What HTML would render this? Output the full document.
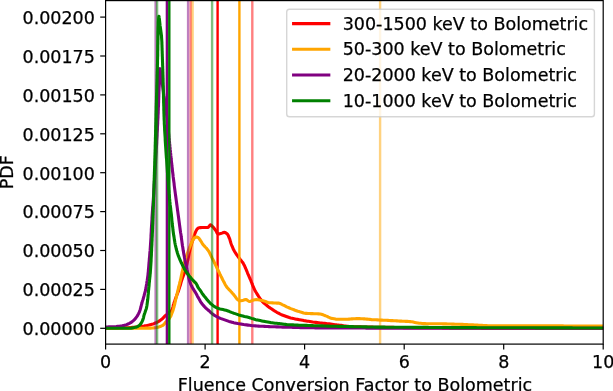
<!DOCTYPE html>
<html><head><meta charset="utf-8"><title>PDF plot</title>
<style>html,body{margin:0;padding:0;background:#fff}body{width:613px;height:391px;overflow:hidden}</style></head>
<body>
<svg width="613" height="391" viewBox="0 0 613 391" style="display:block;font-family:'DejaVu Sans','Liberation Sans',sans-serif"><style>text{stroke:#000;stroke-width:0.25px}</style>
<rect width="613" height="391" fill="#fff"/>
<defs><clipPath id="ax"><rect x="105.6" y="0.6" width="497.6" height="343.5"/></clipPath></defs>
<g clip-path="url(#ax)">
<polyline points="105.6,328.2 107.1,328.2 108.6,328.2 110.1,328.2 111.6,328.2 113.1,328.1 114.6,328.1 116.1,328.1 117.6,328.1 119.1,328.0 120.0,328.0 120.6,328.0 122.1,327.9 123.6,327.9 125.1,327.8 126.6,327.7 128.1,327.7 129.6,327.6 131.1,327.5 132.6,327.3 134.0,327.2 134.5,327.2 135.5,327.1 137.0,327.0 138.5,326.8 140.0,326.6 141.5,326.4 143.0,326.2 144.1,326.0 144.5,325.9 145.9,325.7 147.4,325.4 148.9,325.1 150.3,324.7 151.8,324.3 151.8,324.3 153.2,323.9 154.6,323.3 156.0,322.8 157.4,322.1 157.6,322.0 158.7,321.4 159.9,320.6 161.1,319.7 162.0,319.0 162.3,318.8 163.4,317.7 164.4,316.6 165.4,315.5 165.7,315.3 166.6,314.6 167.7,313.6 168.9,312.7 169.5,312.2 170.1,311.7 171.4,310.8 172.0,310.0 172.2,309.7 172.6,308.3 173.0,306.8 173.3,305.3 173.4,305.0 173.8,303.8 174.2,302.4 174.7,301.0 175.0,300.0 175.2,299.6 175.7,298.2 176.2,296.8 176.5,296.0 176.7,295.4 177.3,294.0 177.8,292.6 178.4,291.2 178.7,290.2 178.8,289.8 179.3,288.3 179.7,286.9 180.2,285.5 180.6,284.0 181.0,282.6 181.4,281.1 181.6,280.6 181.9,279.7 182.4,278.3 182.9,276.9 183.5,275.5 184.0,274.1 184.5,272.7 185.0,271.3 185.4,269.8 185.6,269.3 185.8,268.4 186.2,267.0 186.6,265.5 186.9,264.1 187.2,262.6 187.5,261.1 187.9,259.7 188.2,258.2 188.5,256.7 188.8,255.2 189.1,253.8 189.4,252.3 189.8,250.9 189.8,250.9 190.2,249.4 190.6,248.0 190.9,246.5 191.3,245.1 191.7,243.6 192.1,242.2 192.6,240.7 193.0,239.3 193.5,237.9 193.9,236.6 193.9,236.5 194.4,235.0 194.9,233.6 195.5,232.1 196.1,230.8 196.6,229.9 196.8,229.6 197.9,228.3 198.6,227.9 199.1,227.8 200.5,227.6 202.1,227.5 203.7,227.5 203.7,227.5 205.2,227.5 206.8,227.5 207.8,227.5 208.1,227.4 209.2,226.2 210.2,224.9 210.5,224.8 211.3,225.2 212.4,226.4 212.9,226.9 213.5,227.5 214.4,228.7 215.3,229.9 216.0,230.9 216.2,231.1 216.9,232.7 217.8,233.9 218.1,234.0 219.0,233.9 220.6,233.5 221.1,233.4 222.0,233.1 223.5,232.5 224.2,232.4 224.9,232.5 226.3,233.2 227.3,234.0 227.4,234.1 228.2,235.3 228.8,236.8 229.3,238.1 229.4,238.2 229.9,239.6 230.3,241.1 230.7,242.5 231.2,243.9 231.3,244.2 231.7,245.3 232.3,246.7 232.9,248.1 233.4,249.3 233.5,249.5 234.2,250.8 235.0,252.1 235.8,253.3 236.0,253.6 236.6,254.6 237.5,255.8 238.4,257.0 239.3,258.2 239.3,258.3 240.2,259.4 241.1,260.6 242.0,261.7 242.0,261.8 243.0,262.9 243.4,263.6 243.7,264.2 244.4,265.5 245.0,266.9 245.6,268.3 245.7,268.5 246.2,269.7 246.8,271.1 247.4,272.5 247.5,272.8 247.9,273.8 248.5,275.2 249.1,276.6 249.7,278.0 250.3,279.3 250.6,280.0 250.9,280.7 251.4,282.1 252.0,283.5 252.0,283.6 252.5,284.9 253.1,286.3 253.7,287.7 254.3,289.0 254.9,290.2 255.0,290.4 255.7,291.7 256.5,293.0 257.2,294.3 258.1,295.5 258.7,296.5 258.9,296.8 259.7,298.0 260.6,299.3 261.5,300.5 262.4,301.6 262.5,301.7 263.5,302.7 264.6,303.6 265.8,304.6 266.4,305.1 266.9,305.5 268.1,306.5 269.3,307.4 270.2,308.0 270.5,308.2 271.8,309.1 273.0,309.9 274.3,310.7 274.9,311.1 275.6,311.5 276.8,312.3 278.1,313.0 279.5,313.7 279.8,313.9 280.8,314.4 282.2,315.0 283.6,315.5 285.0,316.0 286.3,316.5 286.4,316.5 287.8,317.0 289.3,317.5 290.7,317.9 292.2,318.2 292.8,318.4 293.6,318.6 295.1,318.9 296.6,319.2 298.0,319.4 299.4,319.7 299.5,319.7 301.0,320.0 302.5,320.3 303.9,320.6 305.4,320.8 305.9,320.9 306.9,321.1 308.4,321.3 309.8,321.5 311.3,321.7 312.4,321.9 312.8,322.0 314.3,322.2 315.8,322.4 317.3,322.6 318.7,322.8 318.9,322.8 320.2,323.0 321.7,323.1 323.2,323.3 324.7,323.4 326.2,323.6 327.1,323.7 327.7,323.8 329.2,323.9 330.7,324.1 332.1,324.3 333.6,324.5 335.1,324.7 335.3,324.7 336.6,324.9 338.1,325.0 339.6,325.2 341.1,325.4 342.5,325.6 343.4,325.7 344.0,325.8 345.5,326.0 347.0,326.2 348.5,326.4 350.0,326.5 351.0,326.6 351.5,326.6 353.0,326.7 354.5,326.7 356.0,326.8 357.5,326.8 359.0,326.9 360.5,326.9 362.0,327.0 363.5,327.0 365.0,327.0 366.5,327.0 368.0,327.1 369.5,327.1 370.0,327.1 371.0,327.1 372.5,327.1 373.9,327.2 375.4,327.2 376.9,327.2 378.4,327.2 379.9,327.3 381.4,327.3 382.9,327.3 384.4,327.3 385.9,327.3 387.4,327.4 388.9,327.4 390.4,327.4 391.9,327.4 393.4,327.4 394.9,327.5 396.4,327.5 397.9,327.5 399.4,327.5 400.9,327.5 402.4,327.5 403.9,327.6 405.4,327.6 406.9,327.6 408.4,327.6 409.9,327.6 411.4,327.6 412.9,327.6 414.4,327.7 415.9,327.7 417.4,327.7 418.9,327.7 420.0,327.7 420.4,327.7 421.9,327.7 423.4,327.7 424.9,327.7 426.4,327.7 427.9,327.8 429.4,327.8 430.9,327.8 432.4,327.8 433.9,327.8 435.4,327.8 436.9,327.8 438.4,327.8 439.9,327.8 441.4,327.8 442.9,327.9 444.4,327.9 445.9,327.9 447.4,327.9 448.9,327.9 450.4,327.9 451.9,327.9 453.4,327.9 454.9,327.9 456.4,327.9 457.9,327.9 459.4,328.0 460.9,328.0 462.4,328.0 463.8,328.0 465.3,328.0 466.8,328.0 468.3,328.0 469.8,328.0 471.3,328.0 472.8,328.0 474.3,328.0 475.8,328.0 477.3,328.0 478.8,328.0 480.3,328.0 481.8,328.1 483.3,328.1 484.8,328.1 486.3,328.1 487.8,328.1 489.3,328.1 490.8,328.1 492.3,328.1 493.8,328.1 495.3,328.1 496.8,328.1 498.3,328.1 499.8,328.1 500.0,328.1 501.3,328.1 502.8,328.1 504.3,328.1 505.8,328.1 507.3,328.1 508.8,328.1 510.3,328.1 511.8,328.1 513.3,328.1 514.8,328.1 516.3,328.1 517.8,328.1 519.3,328.1 520.8,328.1 522.3,328.1 523.8,328.1 525.3,328.1 526.8,328.1 528.3,328.1 529.8,328.1 531.3,328.1 532.8,328.1 534.3,328.2 535.8,328.2 537.3,328.2 538.8,328.2 540.3,328.2 541.8,328.2 543.3,328.2 544.8,328.2 546.3,328.2 547.8,328.2 549.3,328.2 550.8,328.2 552.3,328.2 553.8,328.2 555.3,328.2 556.7,328.2 558.2,328.2 559.7,328.2 561.2,328.2 562.7,328.2 564.2,328.2 565.7,328.2 567.2,328.2 568.7,328.2 570.2,328.2 571.7,328.2 573.2,328.2 574.7,328.2 576.2,328.2 577.7,328.2 579.2,328.2 580.7,328.2 582.2,328.2 583.7,328.2 585.2,328.2 586.7,328.2 588.2,328.2 589.7,328.2 591.2,328.2 592.7,328.2 594.2,328.2 595.7,328.2 597.2,328.2 598.7,328.2 600.2,328.2 601.7,328.2 603.2,328.2" fill="none" stroke="#ff0000" stroke-width="3.10" stroke-linejoin="round" stroke-linecap="square"/>
<line x1="217.6" x2="217.6" y1="0.6" y2="344.1" stroke="#ff0000" stroke-opacity="1" stroke-width="2.40"/>
<line x1="190.7" x2="190.7" y1="0.6" y2="344.1" stroke="#ff0000" stroke-opacity="0.5" stroke-width="2.40"/>
<line x1="252.3" x2="252.3" y1="0.6" y2="344.1" stroke="#ff0000" stroke-opacity="0.5" stroke-width="2.40"/>
<polyline points="105.6,328.2 107.1,328.2 108.6,328.2 110.1,328.2 111.6,328.2 113.1,328.2 114.6,328.2 116.1,328.2 117.6,328.2 119.1,328.2 120.6,328.2 122.1,328.2 123.6,328.2 125.1,328.2 126.6,328.2 128.1,328.2 129.5,328.2 131.0,328.2 132.5,328.2 134.0,328.2 134.5,328.2 135.5,328.2 137.0,328.2 138.5,328.2 140.0,328.2 141.5,328.2 143.0,328.2 144.5,328.2 146.0,328.1 147.5,328.1 149.0,328.1 150.0,328.1 150.5,328.1 152.0,328.0 153.5,327.9 155.0,327.7 155.0,327.7 156.5,327.5 157.9,327.2 159.0,326.9 159.4,326.8 160.8,326.3 162.2,325.7 162.7,325.4 163.4,324.9 164.4,323.8 165.4,322.6 165.7,322.2 166.4,321.5 167.5,320.5 168.3,319.6 168.5,319.4 169.5,318.2 170.3,317.0 170.3,317.0 171.0,315.7 171.5,314.3 172.0,313.0 172.1,312.8 172.6,311.5 173.1,310.0 173.1,310.0 173.5,308.6 173.9,307.2 174.3,305.7 174.5,305.0 174.7,304.3 175.0,302.8 175.3,301.3 175.6,300.0 175.6,299.9 176.0,298.4 176.3,297.0 176.7,295.5 176.8,295.0 177.0,294.1 177.4,292.6 177.7,291.1 178.0,290.0 178.1,289.7 178.4,288.2 178.8,286.8 179.1,285.3 179.2,285.0 179.5,283.9 179.8,282.4 180.2,281.0 180.3,280.6 180.6,279.5 180.9,278.1 181.2,276.6 181.5,275.1 181.8,273.7 182.1,272.2 182.5,270.7 182.8,269.3 183.1,267.8 183.5,266.3 183.8,264.9 184.0,264.2 184.2,263.5 184.6,262.0 185.0,260.6 185.5,259.2 185.9,257.7 186.4,256.3 186.9,254.9 187.2,254.0 187.4,253.5 187.9,252.1 188.4,250.6 188.9,249.2 189.4,247.8 189.9,246.4 190.3,245.6 190.5,245.1 191.1,243.7 191.7,242.3 192.4,240.9 193.2,239.7 193.4,239.4 194.1,238.4 195.3,237.3 196.0,237.0 196.6,237.1 198.0,237.5 198.2,237.6 199.1,238.4 199.9,239.8 200.3,240.3 200.8,241.0 201.6,242.3 202.3,243.6 203.2,244.8 203.3,245.0 204.2,245.9 205.2,247.0 206.2,248.0 206.3,248.1 207.2,249.2 208.1,250.4 208.8,251.4 209.0,251.7 209.7,253.0 210.3,254.3 211.0,255.7 211.5,256.8 211.6,257.0 212.3,258.4 213.0,259.7 213.7,261.0 214.3,262.3 214.3,262.4 215.0,263.7 215.6,265.1 216.2,266.4 216.9,267.8 217.1,268.3 217.5,269.2 218.2,270.5 218.8,271.8 219.5,273.2 220.1,274.4 220.2,274.5 220.8,275.9 221.5,277.2 222.1,278.6 222.8,279.9 223.2,280.6 223.5,281.2 224.2,282.5 224.9,283.9 225.6,285.2 226.4,286.5 227.0,287.3 227.3,287.7 228.3,288.8 229.3,289.9 230.4,290.9 230.9,291.5 231.4,292.0 232.4,293.2 233.4,294.3 234.3,295.4 234.7,295.9 235.2,296.6 236.1,297.9 237.0,299.1 237.6,299.6 238.1,300.0 239.5,300.8 239.9,300.8 240.9,300.7 242.4,300.4 243.3,300.2 243.9,300.0 245.4,299.6 246.0,299.5 246.7,299.7 248.0,300.7 249.3,301.5 249.6,301.5 250.7,301.2 252.1,300.6 252.9,300.3 253.6,300.1 255.0,299.8 256.4,299.6 256.5,299.6 258.0,299.7 259.5,300.0 260.6,300.2 261.0,300.3 262.4,300.6 263.9,300.9 264.5,301.1 265.3,301.4 266.7,302.0 268.1,302.5 268.3,302.5 269.6,302.7 271.0,302.8 272.6,302.9 274.0,303.0 274.1,303.0 275.6,303.0 277.1,303.1 278.5,303.1 278.5,303.1 280.0,303.5 281.4,304.1 281.5,304.2 282.7,304.8 284.0,305.4 285.4,306.1 286.7,306.8 287.5,307.2 288.1,307.4 289.4,308.0 290.8,308.6 292.2,309.1 293.6,309.7 294.0,309.8 295.0,310.2 296.4,310.7 297.9,311.2 299.3,311.6 300.5,312.0 300.7,312.1 302.1,312.5 303.6,313.0 305.0,313.3 305.8,313.4 306.5,313.4 308.0,313.5 309.5,313.5 311.0,313.6 312.4,313.6 312.5,313.6 314.0,313.7 315.5,313.7 317.0,313.8 318.5,313.9 320.0,314.0 320.2,314.0 321.4,314.2 322.9,314.7 324.3,315.3 325.5,315.8 325.7,315.9 327.1,316.4 328.4,317.1 329.8,317.7 331.2,318.2 332.0,318.4 332.6,318.5 334.1,318.8 335.6,319.1 337.1,319.2 338.5,319.3 338.6,319.3 340.1,319.3 341.6,319.3 343.1,319.3 344.6,319.3 345.0,319.3 346.1,319.3 347.6,319.2 349.1,319.1 350.5,319.0 351.6,318.9 352.0,318.9 353.5,318.8 355.0,318.7 356.5,318.6 358.0,318.6 358.1,318.6 359.5,318.6 361.0,318.7 362.5,318.8 364.0,318.9 364.6,318.9 365.5,319.0 367.0,319.1 368.5,319.3 370.0,319.4 370.6,319.5 371.5,319.6 372.9,319.7 374.4,319.7 375.9,319.8 377.4,319.9 378.9,320.0 380.4,320.1 381.2,320.1 381.9,320.1 383.4,320.2 384.9,320.3 386.4,320.3 387.9,320.4 389.4,320.5 390.9,320.6 391.8,320.6 392.4,320.6 393.9,320.7 395.4,320.8 396.9,320.9 398.4,321.0 399.9,321.1 401.3,321.1 402.4,321.2 402.8,321.2 404.3,321.3 405.8,321.4 407.3,321.4 408.8,321.5 410.3,321.6 411.0,321.7 411.8,321.8 413.3,322.1 414.7,322.4 416.2,322.7 417.7,323.0 418.0,323.0 419.2,323.2 420.6,323.3 422.1,323.5 423.6,323.6 424.0,323.6 425.1,323.6 426.6,323.7 428.1,323.7 429.6,323.7 431.1,323.7 432.6,323.8 434.1,323.8 435.6,323.8 437.1,323.8 438.6,323.8 440.1,323.8 441.6,323.8 443.1,323.9 444.6,323.9 444.8,323.9 446.1,323.9 447.6,324.0 449.1,324.0 450.6,324.0 452.1,324.1 453.6,324.1 455.1,324.2 456.6,324.2 458.0,324.3 459.5,324.3 461.0,324.4 461.8,324.4 462.5,324.4 464.0,324.5 465.5,324.6 467.0,324.6 468.5,324.7 470.0,324.8 471.5,324.8 473.0,324.9 474.5,325.0 476.0,325.1 477.5,325.1 478.8,325.2 479.0,325.2 480.5,325.3 482.0,325.4 483.5,325.5 485.0,325.5 486.5,325.6 488.0,325.7 489.4,325.7 490.0,325.7 490.9,325.7 492.4,325.7 493.9,325.7 495.4,325.7 496.9,325.8 498.4,325.8 499.9,325.8 501.4,325.8 502.9,325.8 504.4,325.8 505.9,325.8 507.4,325.8 508.9,325.8 510.4,325.8 511.9,325.8 513.4,325.8 514.9,325.8 516.4,325.8 517.9,325.9 519.4,325.9 520.9,325.9 522.4,325.9 523.9,325.9 525.4,325.9 526.9,325.9 528.4,325.9 529.9,325.9 531.4,325.9 532.9,325.9 534.3,325.9 535.8,325.9 537.3,325.9 538.8,325.9 540.0,325.9 540.3,325.9 541.8,325.9 543.3,325.9 544.8,325.9 546.3,325.9 547.8,325.9 549.3,325.9 550.8,325.9 552.3,325.9 553.8,325.9 555.3,325.9 556.8,325.9 558.3,325.9 559.8,325.9 561.3,325.9 562.8,325.9 564.3,326.0 565.8,326.0 567.3,326.0 568.8,326.0 570.3,326.0 571.8,326.0 573.3,326.0 574.8,326.0 576.3,326.0 577.8,326.0 579.3,326.0 580.7,326.0 582.2,326.0 583.7,326.0 585.2,326.0 586.7,326.0 588.2,326.0 589.7,326.0 591.2,326.0 592.7,326.0 594.2,326.0 595.7,326.0 597.2,326.0 598.7,326.0 600.2,326.0 601.7,326.0 603.2,326.0" fill="none" stroke="#ffa500" stroke-width="3.10" stroke-linejoin="round" stroke-linecap="square"/>
<line x1="239.4" x2="239.4" y1="0.6" y2="344.1" stroke="#ffa500" stroke-opacity="1" stroke-width="2.40"/>
<line x1="192.6" x2="192.6" y1="0.6" y2="344.1" stroke="#ffa500" stroke-opacity="0.5" stroke-width="2.40"/>
<line x1="380.1" x2="380.1" y1="0.6" y2="344.1" stroke="#ffa500" stroke-opacity="0.5" stroke-width="2.40"/>
<polyline points="105.8,327.0 107.3,327.0 108.8,326.9 110.3,326.9 111.8,326.8 112.0,326.8 113.3,326.7 114.8,326.7 116.3,326.6 117.8,326.4 118.1,326.4 119.3,326.3 120.8,326.0 122.2,325.8 123.7,325.4 124.6,325.2 125.1,325.1 126.6,324.6 128.0,324.0 129.4,323.4 130.7,322.7 131.1,322.4 131.9,321.9 133.1,320.9 134.2,319.9 135.0,319.0 135.2,318.8 136.1,317.6 137.0,316.4 137.8,315.1 137.8,315.0 138.5,313.8 139.2,312.4 139.4,312.0 139.7,311.1 140.2,309.7 140.6,308.2 141.0,306.7 141.3,305.3 141.7,303.8 142.0,302.8 142.1,302.4 142.5,300.9 143.0,299.5 143.4,298.1 143.8,296.6 144.0,296.0 144.2,295.2 144.6,293.7 145.0,292.3 145.4,290.8 145.6,290.0 145.7,289.4 146.0,287.9 146.2,286.4 146.5,284.9 146.6,284.0 146.7,283.5 146.9,282.0 147.2,280.5 147.4,279.0 147.6,277.7 147.6,277.5 147.8,276.1 148.0,274.6 148.1,273.1 148.3,271.6 148.4,270.1 148.4,270.0 148.5,268.6 148.7,267.1 148.8,265.6 148.9,264.1 149.0,263.2 149.0,262.6 149.2,261.1 149.3,259.6 149.4,258.1 149.6,256.6 149.7,255.1 149.8,253.7 149.9,252.2 150.1,250.7 150.2,249.2 150.3,247.7 150.4,246.2 150.5,244.7 150.6,243.3 150.6,243.2 150.7,241.7 150.8,240.2 150.9,238.7 151.0,237.2 151.0,235.7 151.1,234.2 151.2,232.7 151.3,231.2 151.3,229.7 151.4,228.2 151.5,226.7 151.6,225.2 151.6,225.0 151.7,223.7 151.8,222.2 151.9,220.7 152.0,219.3 152.0,217.8 152.1,216.3 152.2,214.8 152.3,213.3 152.4,211.8 152.5,210.3 152.6,208.8 152.7,207.3 152.9,205.8 153.0,204.3 153.1,202.8 153.2,201.3 153.3,199.8 153.4,198.3 153.5,196.8 153.6,195.3 153.7,193.8 153.8,192.3 153.8,190.8 153.9,190.0 153.9,189.3 154.0,187.8 154.1,186.3 154.2,184.9 154.3,183.4 154.4,181.9 154.5,180.4 154.6,178.9 154.7,177.4 154.8,175.9 154.9,174.4 155.0,172.9 155.0,171.4 155.1,169.9 155.2,168.4 155.3,166.9 155.4,165.4 155.5,163.9 155.6,162.4 155.6,160.9 155.7,160.0 155.7,159.4 155.8,157.9 155.9,156.4 156.0,154.9 156.1,153.4 156.2,151.9 156.2,150.4 156.3,148.9 156.4,147.4 156.5,145.9 156.6,144.4 156.7,143.0 156.7,141.5 156.8,140.0 156.9,138.5 157.0,137.0 157.1,135.5 157.1,134.0 157.2,132.5 157.3,131.0 157.4,129.5 157.4,128.0 157.5,126.5 157.6,125.0 157.7,123.5 157.7,122.0 157.8,120.5 157.9,119.0 158.0,117.5 158.0,116.0 158.1,114.5 158.2,113.0 158.2,112.0 158.2,111.5 158.3,110.0 158.3,108.5 158.4,107.0 158.5,105.5 158.5,104.0 158.6,102.5 158.6,101.0 158.7,99.5 158.7,98.0 158.8,96.5 158.8,95.0 158.9,93.5 158.9,92.0 159.0,90.5 159.0,89.0 159.1,87.5 159.2,86.1 159.2,85.0 159.2,84.5 159.3,82.9 159.3,81.0 159.4,79.0 159.4,77.0 159.5,75.1 159.5,73.3 159.6,71.6 159.7,70.3 159.7,69.3 159.8,68.7 159.9,68.6 159.9,68.7 160.1,69.5 160.4,71.1 160.7,73.0 160.9,74.9 161.1,76.0 161.2,76.5 161.4,78.0 161.6,79.5 161.8,81.0 162.1,82.4 162.3,83.9 162.5,85.4 162.7,86.9 162.9,88.4 163.1,89.9 163.3,91.3 163.4,92.0 163.5,92.8 163.7,94.3 163.9,95.8 164.2,97.3 164.4,98.8 164.6,100.3 164.8,101.7 165.0,103.2 165.2,104.7 165.4,106.2 165.6,107.7 165.8,109.2 166.0,110.6 166.2,112.1 166.4,113.6 166.6,115.0 166.6,115.1 166.8,116.6 167.0,118.1 167.1,119.6 167.3,121.1 167.5,122.5 167.6,124.0 167.8,125.5 168.0,127.0 168.1,128.5 168.3,130.0 168.4,131.5 168.6,133.0 168.7,134.5 168.9,136.0 169.0,137.4 169.2,138.9 169.3,140.4 169.5,141.9 169.6,143.4 169.8,144.9 169.9,146.4 170.1,147.9 170.2,149.4 170.4,150.9 170.5,152.4 170.7,153.9 170.8,155.4 171.0,156.8 171.1,158.3 171.3,159.8 171.4,161.3 171.6,162.8 171.8,164.3 171.9,165.8 172.1,167.3 172.3,168.8 172.4,170.0 172.4,170.3 172.6,171.7 172.8,173.2 173.0,174.7 173.1,176.2 173.3,177.7 173.5,179.2 173.7,180.7 173.9,182.2 174.1,183.6 174.2,185.1 174.4,186.6 174.6,188.1 174.8,189.6 175.0,191.1 175.2,192.6 175.4,194.1 175.6,195.5 175.8,197.0 176.0,198.5 176.2,200.0 176.4,201.5 176.6,203.0 176.8,204.5 177.0,205.9 177.2,207.4 177.4,208.9 177.5,210.0 177.6,210.4 177.8,211.9 178.0,213.4 178.2,214.9 178.4,216.3 178.6,217.8 178.8,219.3 179.0,220.8 179.2,222.3 179.2,222.3 179.4,223.8 179.6,225.2 179.8,226.7 180.0,228.2 180.2,229.7 180.4,231.2 180.6,232.7 180.9,234.2 181.1,235.6 181.2,236.6 181.3,237.1 181.5,238.6 181.7,240.1 181.9,241.6 182.1,243.1 182.3,244.5 182.5,246.0 182.8,247.5 183.0,249.0 183.2,250.5 183.3,250.9 183.5,251.9 183.7,253.4 184.0,254.9 184.3,256.4 184.5,257.8 184.8,259.3 185.1,260.8 185.4,262.3 185.6,263.2 185.7,263.7 186.0,265.2 186.3,266.7 186.6,268.1 186.9,269.6 187.3,271.1 187.6,272.5 187.8,273.4 187.9,274.0 188.3,275.5 188.6,276.9 188.9,278.4 189.3,279.8 189.7,281.3 189.8,281.6 190.2,282.7 190.7,284.1 191.3,285.4 192.0,286.8 192.7,288.1 193.2,289.0 193.5,289.4 194.3,290.7 194.6,291.1 195.1,291.9 195.9,293.2 196.6,294.5 197.3,295.9 198.0,297.2 198.4,297.8 198.8,298.5 199.5,299.8 200.2,301.1 201.0,302.4 201.7,303.4 201.9,303.6 202.8,304.8 203.8,305.9 204.8,307.0 205.4,307.6 205.9,308.1 207.0,309.1 208.1,310.0 209.0,310.8 209.3,311.0 210.4,312.1 211.5,313.1 212.6,314.0 212.6,314.0 213.8,314.9 215.1,315.7 216.4,316.5 217.7,317.2 218.4,317.5 219.1,317.8 220.4,318.4 221.8,318.9 223.3,319.4 224.7,319.9 226.1,320.4 226.1,320.4 227.5,320.9 229.0,321.4 230.4,321.8 231.8,322.2 233.3,322.6 233.7,322.7 234.7,322.9 236.2,323.2 237.7,323.5 239.2,323.7 240.6,324.0 241.4,324.1 242.1,324.2 243.6,324.5 245.1,324.7 246.6,324.9 248.0,325.1 249.5,325.3 251.0,325.5 252.5,325.7 252.9,325.7 254.0,325.8 255.5,325.9 257.0,326.0 258.5,326.1 260.0,326.2 261.5,326.3 263.0,326.3 264.5,326.4 264.5,326.4 266.0,326.5 267.5,326.5 269.0,326.6 270.5,326.7 272.0,326.7 273.5,326.8 275.0,326.8 276.5,326.9 278.0,326.9 279.5,327.0 280.0,327.0 281.0,327.0 282.5,327.1 283.9,327.1 285.4,327.2 286.9,327.2 288.4,327.3 289.9,327.3 291.4,327.3 292.9,327.4 294.4,327.4 295.9,327.4 297.4,327.5 298.9,327.5 300.4,327.6 301.9,327.6 302.6,327.6 303.4,327.6 304.9,327.7 306.4,327.7 307.9,327.7 309.4,327.8 310.9,327.8 312.4,327.8 313.9,327.8 315.4,327.9 316.9,327.9 318.4,327.9 318.9,327.9 319.9,327.9 321.4,327.9 322.9,327.9 324.4,327.9 325.9,327.9 327.4,327.9 328.9,327.9 330.4,328.0 331.9,328.0 333.4,328.0 334.9,328.0 336.4,328.0 337.9,328.0 339.4,328.0 340.9,328.0 342.4,328.0 343.9,328.0 345.4,328.0 346.9,328.0 348.4,328.0 349.9,328.0 351.4,328.0 352.9,328.0 354.4,328.0 355.9,328.0 357.4,328.0 358.9,328.0 360.4,328.0 361.9,328.0 363.4,328.0 364.9,328.0 366.4,328.1 367.9,328.1 369.4,328.1 370.9,328.1 372.4,328.1 373.9,328.1 375.4,328.1 376.9,328.1 378.4,328.1 379.9,328.1 381.4,328.1 382.9,328.1 384.4,328.1 385.9,328.1 387.4,328.1 388.9,328.1 390.4,328.1 391.9,328.1 393.4,328.1 394.9,328.1 396.4,328.1 397.9,328.1 399.4,328.1 400.0,328.1 400.9,328.1 402.4,328.1 403.8,328.1 405.3,328.1 406.8,328.1 408.3,328.1 409.8,328.1 411.3,328.1 412.8,328.1 414.3,328.1 415.8,328.1 417.3,328.1 418.8,328.1 420.3,328.1 421.8,328.1 423.3,328.1 424.8,328.1 426.3,328.1 427.8,328.1 429.3,328.1 430.8,328.1 432.3,328.1 433.8,328.2 435.3,328.2 436.8,328.2 438.3,328.2 439.8,328.2 441.3,328.2 442.8,328.2 444.3,328.2 445.8,328.2 447.3,328.2 448.8,328.2 450.3,328.2 451.8,328.2 453.3,328.2 454.8,328.2 456.3,328.2 457.8,328.2 459.3,328.2 460.8,328.2 462.3,328.2 463.8,328.2 465.3,328.2 466.8,328.2 468.3,328.2 469.8,328.2 471.3,328.2 472.8,328.2 474.3,328.2 475.8,328.2 477.3,328.2 478.8,328.2 480.3,328.2 481.8,328.2 483.3,328.2 484.8,328.2 486.3,328.2 487.8,328.2 489.3,328.2 490.8,328.2 492.3,328.2 493.8,328.2 495.3,328.2 496.8,328.2 498.3,328.2 499.8,328.2 501.3,328.2 502.8,328.2 504.3,328.2 505.8,328.2 507.3,328.2 508.8,328.2 510.3,328.2 511.8,328.2 513.3,328.3 514.8,328.3 516.3,328.3 517.8,328.3 519.3,328.3 520.8,328.3 522.3,328.3 523.8,328.3 525.3,328.3 526.8,328.3 528.3,328.3 529.8,328.3 531.3,328.3 532.8,328.3 534.3,328.3 535.8,328.3 537.2,328.3 538.7,328.3 540.2,328.3 541.7,328.3 543.2,328.3 544.7,328.3 546.2,328.3 547.7,328.3 549.2,328.3 550.7,328.3 552.2,328.3 553.7,328.3 555.2,328.3 556.7,328.3 558.2,328.3 559.7,328.3 561.2,328.3 562.7,328.3 564.2,328.3 565.7,328.3 567.2,328.3 568.7,328.3 570.2,328.3 571.7,328.3 573.2,328.3 574.7,328.3 576.2,328.3 577.7,328.3 579.2,328.3 580.7,328.3 582.2,328.3 583.7,328.3 585.2,328.3 586.7,328.3 588.2,328.3 589.7,328.3 591.2,328.3 592.7,328.3 594.2,328.3 595.7,328.3 597.2,328.3 598.7,328.3 600.2,328.3 601.7,328.3 603.2,328.3" fill="none" stroke="#800080" stroke-width="3.10" stroke-linejoin="round" stroke-linecap="square"/>
<line x1="166.9" x2="166.9" y1="0.6" y2="344.1" stroke="#800080" stroke-opacity="1" stroke-width="2.40"/>
<line x1="155.6" x2="155.6" y1="0.6" y2="344.1" stroke="#800080" stroke-opacity="0.5" stroke-width="2.40"/>
<line x1="188.1" x2="188.1" y1="0.6" y2="344.1" stroke="#800080" stroke-opacity="0.5" stroke-width="2.40"/>
<polyline points="105.6,328.2 107.1,328.2 108.6,328.2 110.1,328.2 111.6,328.2 113.1,328.2 114.6,328.2 116.1,328.2 117.6,328.2 119.1,328.2 120.6,328.2 122.1,328.2 123.6,328.2 125.1,328.2 126.6,328.2 128.1,328.2 128.8,328.2 129.6,328.2 131.1,328.1 132.6,327.9 134.1,327.6 135.5,327.3 136.0,327.2 136.9,326.9 138.3,326.1 139.5,325.2 139.7,325.0 140.5,324.2 141.3,322.9 142.1,321.5 142.7,320.2 142.8,319.9 143.2,318.8 143.6,317.3 143.9,315.8 144.3,314.4 144.4,314.1 144.8,313.0 145.3,311.5 145.8,310.1 146.3,308.7 146.6,307.4 146.6,307.3 146.9,305.8 147.1,304.3 147.3,302.8 147.5,301.3 147.7,299.8 147.8,298.8 147.9,298.3 148.0,296.9 148.1,295.4 148.3,293.9 148.4,292.4 148.5,290.9 148.7,289.4 148.7,289.2 148.8,287.9 149.0,286.4 149.1,284.9 149.2,283.4 149.4,281.9 149.5,280.4 149.6,279.6 149.7,278.9 149.8,277.5 150.0,276.0 150.1,274.5 150.3,273.0 150.4,271.5 150.5,270.0 150.5,270.0 150.6,268.5 150.7,267.0 150.8,265.5 150.9,264.0 151.0,262.5 151.1,261.0 151.1,259.5 151.2,258.0 151.3,256.5 151.4,255.0 151.4,253.5 151.5,252.0 151.6,250.5 151.6,250.0 151.6,249.0 151.7,247.5 151.8,246.0 151.9,244.6 151.9,243.1 152.0,241.6 152.1,240.1 152.1,238.6 152.2,237.1 152.3,235.6 152.3,234.1 152.4,232.6 152.5,231.1 152.5,229.6 152.6,228.1 152.6,226.6 152.7,225.1 152.7,225.0 152.8,223.6 152.8,222.1 152.9,220.6 152.9,219.1 153.0,217.6 153.0,216.1 153.1,214.6 153.1,213.1 153.2,211.6 153.2,210.1 153.3,208.6 153.3,207.1 153.4,205.6 153.4,204.1 153.5,202.6 153.5,201.1 153.6,199.6 153.6,198.1 153.7,196.6 153.7,195.1 153.8,193.6 153.8,192.1 153.9,190.6 153.9,189.1 154.0,187.6 154.0,186.1 154.0,184.6 154.1,183.1 154.1,181.6 154.2,180.1 154.2,178.6 154.3,177.2 154.3,175.7 154.4,174.2 154.4,172.7 154.5,171.2 154.5,170.0 154.5,169.7 154.6,168.2 154.6,166.7 154.7,165.2 154.7,163.7 154.7,162.2 154.8,160.7 154.8,159.2 154.9,157.7 154.9,156.2 155.0,154.7 155.0,153.2 155.1,151.7 155.1,150.2 155.2,148.7 155.2,147.2 155.2,145.7 155.3,144.2 155.3,142.7 155.4,141.2 155.4,140.0 155.4,139.7 155.4,138.2 155.5,136.7 155.5,135.2 155.6,133.7 155.6,132.2 155.6,130.7 155.7,129.2 155.7,127.7 155.7,126.2 155.8,124.7 155.8,123.2 155.9,121.7 155.9,120.2 155.9,118.7 156.0,117.2 156.0,115.7 156.0,114.2 156.1,112.7 156.1,112.0 156.1,111.2 156.2,109.7 156.2,108.2 156.2,106.7 156.3,105.2 156.3,103.7 156.4,102.2 156.4,100.7 156.5,99.2 156.5,97.7 156.5,96.2 156.6,94.7 156.6,93.3 156.7,91.8 156.7,90.3 156.8,88.8 156.8,87.3 156.8,85.8 156.9,84.3 156.9,82.8 157.0,81.3 157.0,79.8 157.1,78.3 157.1,76.8 157.1,75.3 157.2,73.8 157.2,72.3 157.3,70.8 157.3,69.3 157.4,67.8 157.4,66.3 157.4,64.8 157.5,63.3 157.5,61.8 157.5,60.3 157.6,58.8 157.6,58.0 157.6,57.3 157.7,55.8 157.7,54.3 157.7,52.8 157.7,51.3 157.8,49.8 157.8,48.3 157.8,46.8 157.8,45.3 157.9,43.8 157.9,42.3 157.9,40.8 158.0,39.3 158.0,37.8 158.0,36.3 158.1,34.8 158.1,33.3 158.1,31.8 158.2,30.3 158.2,30.0 158.2,28.7 158.3,26.9 158.4,24.9 158.4,23.0 158.5,21.1 158.6,19.3 158.7,17.9 158.8,16.9 158.9,16.3 158.9,16.3 159.0,16.4 159.1,17.2 159.3,18.5 159.5,20.1 159.7,22.0 159.9,24.0 160.1,25.9 160.4,27.6 160.4,28.0 160.6,29.1 160.8,30.6 161.0,32.1 161.2,33.6 161.4,35.1 161.5,36.0 161.5,36.6 161.6,38.0 161.7,39.5 161.8,41.0 161.9,42.5 161.9,44.0 162.0,45.5 162.0,47.0 162.1,48.5 162.1,50.0 162.2,51.5 162.2,53.0 162.3,54.5 162.3,56.0 162.4,57.5 162.4,58.0 162.4,59.0 162.5,60.5 162.5,62.0 162.6,63.5 162.6,65.0 162.7,66.5 162.7,68.0 162.8,69.5 162.8,71.0 162.9,72.5 162.9,74.0 163.0,75.5 163.0,77.0 163.1,78.5 163.1,80.0 163.1,80.0 163.1,81.5 163.2,83.0 163.2,84.5 163.3,86.0 163.3,87.5 163.3,89.0 163.4,90.5 163.4,92.0 163.4,93.5 163.5,95.0 163.5,96.5 163.5,98.0 163.6,99.5 163.6,101.0 163.6,102.5 163.7,104.0 163.7,105.5 163.8,107.0 163.8,108.5 163.8,110.0 163.9,111.5 163.9,113.0 164.0,114.5 164.0,115.0 164.0,116.0 164.1,117.5 164.1,118.9 164.2,120.4 164.3,121.9 164.3,123.4 164.4,124.9 164.5,126.4 164.6,127.9 164.6,129.4 164.7,130.9 164.8,132.4 164.9,133.9 165.0,135.4 165.1,136.9 165.2,138.4 165.2,139.9 165.3,141.4 165.4,142.9 165.5,144.4 165.6,145.9 165.7,147.4 165.8,148.9 165.9,150.4 166.0,151.9 166.1,153.4 166.2,154.9 166.3,156.4 166.4,157.9 166.6,159.3 166.7,160.8 166.8,162.3 166.9,163.8 167.0,165.3 167.1,166.8 167.2,168.3 167.3,169.8 167.3,170.0 167.4,171.3 167.5,172.8 167.6,174.3 167.7,175.8 167.8,177.3 167.9,178.8 168.0,180.3 168.2,181.8 168.3,183.3 168.4,184.8 168.5,186.3 168.6,187.8 168.7,189.2 168.9,190.7 169.0,192.2 169.1,193.7 169.3,195.2 169.4,196.7 169.5,198.2 169.7,199.7 169.7,200.0 169.8,201.2 170.0,202.7 170.1,204.2 170.3,205.7 170.5,207.1 170.7,208.6 170.8,210.1 171.0,211.6 171.2,213.1 171.4,214.6 171.4,215.0 171.5,216.1 171.7,217.6 171.8,219.1 171.9,220.6 172.1,222.0 172.2,223.5 172.4,225.0 172.4,225.0 172.6,226.5 172.8,228.0 172.9,229.5 173.1,231.0 173.3,232.5 173.5,234.0 173.7,235.4 174.0,236.9 174.2,238.4 174.4,239.9 174.7,241.4 174.9,242.8 175.1,243.7 175.2,244.3 175.5,245.8 175.9,247.2 176.2,248.7 176.6,250.1 177.0,251.6 177.1,251.9 177.4,253.0 177.9,254.4 178.4,255.9 179.0,257.3 179.5,258.7 180.1,260.0 180.1,260.1 180.7,261.4 181.3,262.8 182.0,264.1 182.6,265.5 183.0,266.2 183.3,266.8 184.0,268.1 184.7,269.5 185.5,270.8 185.8,271.3 186.3,272.0 187.2,273.2 188.1,274.4 188.4,274.8 189.0,275.6 189.9,276.8 190.9,277.9 191.5,278.7 191.8,279.1 192.9,280.1 193.9,281.2 194.5,281.8 195.0,282.3 196.0,283.4 196.4,284.0 196.8,284.7 197.4,286.0 198.0,287.3 198.1,287.4 198.9,288.6 199.8,289.8 200.2,290.3 200.7,291.0 201.5,292.3 202.3,293.6 202.6,294.0 203.2,294.8 204.1,296.0 205.0,297.1 206.0,298.3 206.9,299.4 206.9,299.4 207.9,300.6 208.9,301.7 209.9,302.8 210.7,303.6 211.0,303.9 212.1,304.8 213.3,305.7 214.5,306.5 214.6,306.6 215.9,307.3 217.3,308.0 218.4,308.4 218.6,308.5 220.1,308.9 221.5,309.2 223.0,309.5 224.5,309.9 225.9,310.3 226.1,310.3 227.4,310.7 228.8,311.2 230.1,311.8 231.5,312.4 232.9,312.9 233.7,313.2 234.3,313.4 235.8,313.9 237.2,314.4 238.6,314.9 240.0,315.3 241.4,315.7 241.5,315.7 242.9,316.1 244.4,316.5 245.8,316.8 247.3,317.1 248.8,317.5 249.1,317.6 250.2,317.9 251.6,318.4 253.1,318.8 254.5,319.3 255.9,319.7 256.8,319.9 257.4,320.0 258.8,320.3 260.3,320.6 261.8,320.9 263.3,321.2 264.5,321.4 264.7,321.4 266.2,321.7 267.7,322.0 269.2,322.3 270.6,322.6 272.1,322.8 272.1,322.8 273.6,323.0 275.1,323.2 276.6,323.3 278.1,323.5 279.6,323.6 280.0,323.7 281.0,323.8 282.5,324.0 284.0,324.3 285.5,324.4 286.3,324.5 287.0,324.6 288.5,324.7 290.0,324.7 291.5,324.8 293.0,324.9 294.5,325.0 296.0,325.0 297.5,325.1 299.0,325.2 300.5,325.2 302.0,325.3 302.6,325.3 303.5,325.3 305.0,325.4 306.5,325.4 308.0,325.5 309.5,325.5 311.0,325.6 312.5,325.6 314.0,325.7 315.5,325.7 317.0,325.7 318.4,325.8 318.9,325.8 319.9,325.8 321.4,325.9 322.9,325.9 324.4,326.0 325.9,326.0 327.4,326.1 328.9,326.1 330.4,326.2 331.9,326.2 333.4,326.3 334.9,326.3 335.3,326.3 336.4,326.3 337.9,326.4 339.4,326.4 340.9,326.4 342.4,326.4 343.9,326.5 345.4,326.5 346.9,326.5 348.4,326.5 349.9,326.6 351.4,326.6 351.6,326.6 352.9,326.6 354.4,326.7 355.9,326.7 357.4,326.7 358.9,326.8 360.4,326.8 361.9,326.8 363.4,326.9 364.9,326.9 366.4,326.9 367.9,327.0 369.4,327.0 370.0,327.0 370.9,327.0 372.4,327.0 373.9,327.0 375.4,327.1 376.9,327.1 378.4,327.1 379.9,327.1 381.4,327.1 382.9,327.1 384.4,327.1 385.9,327.2 387.4,327.2 388.9,327.2 390.4,327.2 391.9,327.2 393.4,327.2 394.9,327.2 396.4,327.2 397.9,327.3 399.4,327.3 400.9,327.3 402.4,327.3 403.9,327.3 405.4,327.3 406.9,327.3 408.4,327.3 409.9,327.3 411.4,327.3 412.9,327.4 414.4,327.4 415.9,327.4 417.4,327.4 418.8,327.4 420.3,327.4 421.8,327.4 423.3,327.4 424.8,327.4 426.3,327.4 427.8,327.4 429.3,327.5 430.8,327.5 432.3,327.5 433.8,327.5 435.3,327.5 436.8,327.5 438.3,327.5 439.8,327.5 441.3,327.5 442.8,327.5 444.3,327.5 445.8,327.5 447.3,327.5 448.8,327.5 450.3,327.6 451.8,327.6 453.3,327.6 454.8,327.6 456.3,327.6 457.8,327.6 459.3,327.6 460.8,327.6 462.3,327.6 463.8,327.6 465.3,327.6 466.8,327.6 468.3,327.6 469.8,327.6 471.3,327.6 472.8,327.6 474.3,327.6 475.8,327.6 477.3,327.7 478.8,327.7 480.3,327.7 481.8,327.7 483.3,327.7 484.8,327.7 486.3,327.7 487.8,327.7 489.3,327.7 490.0,327.7 490.8,327.7 492.3,327.7 493.8,327.7 495.3,327.7 496.8,327.7 498.3,327.7 499.8,327.7 501.3,327.7 502.8,327.7 504.3,327.8 505.8,327.8 507.3,327.8 508.8,327.8 510.3,327.8 511.8,327.8 513.3,327.8 514.8,327.8 516.3,327.8 517.8,327.8 519.3,327.8 520.8,327.8 522.3,327.8 523.8,327.8 525.3,327.8 526.8,327.8 528.3,327.8 529.8,327.8 531.3,327.8 532.8,327.8 534.3,327.8 535.8,327.9 537.3,327.9 538.8,327.9 540.3,327.9 541.7,327.9 543.2,327.9 544.7,327.9 546.2,327.9 547.7,327.9 549.2,327.9 550.7,327.9 552.2,327.9 553.7,327.9 555.2,327.9 556.7,327.9 558.2,327.9 559.7,327.9 561.2,327.9 562.7,327.9 564.2,327.9 565.7,327.9 567.2,327.9 568.7,327.9 570.2,327.9 571.7,327.9 573.2,328.0 574.7,328.0 576.2,328.0 577.7,328.0 579.2,328.0 580.7,328.0 582.2,328.0 583.7,328.0 585.2,328.0 586.7,328.0 588.2,328.0 589.7,328.0 591.2,328.0 592.7,328.0 594.2,328.0 595.7,328.0 597.2,328.0 598.7,328.0 600.2,328.0 601.7,328.0 603.2,328.0" fill="none" stroke="#008000" stroke-width="3.10" stroke-linejoin="round" stroke-linecap="square"/>
<line x1="169.3" x2="169.3" y1="0.6" y2="344.1" stroke="#008000" stroke-opacity="1" stroke-width="2.40"/>
<line x1="157.1" x2="157.1" y1="0.6" y2="344.1" stroke="#008000" stroke-opacity="0.5" stroke-width="2.40"/>
<line x1="212.1" x2="212.1" y1="0.6" y2="344.1" stroke="#008000" stroke-opacity="0.5" stroke-width="2.40"/>
</g>
<rect x="105.6" y="0.6" width="497.6" height="343.5" fill="none" stroke="#000" stroke-width="1.2"/>
<line x1="105.6" x2="105.6" y1="344.1" y2="349.5" stroke="#000" stroke-width="1.2"/>
<text x="105.6" y="368.1" font-size="17.5" text-anchor="middle">0</text>
<line x1="205.1" x2="205.1" y1="344.1" y2="349.5" stroke="#000" stroke-width="1.2"/>
<text x="205.1" y="368.1" font-size="17.5" text-anchor="middle">2</text>
<line x1="304.6" x2="304.6" y1="344.1" y2="349.5" stroke="#000" stroke-width="1.2"/>
<text x="304.6" y="368.1" font-size="17.5" text-anchor="middle">4</text>
<line x1="404.2" x2="404.2" y1="344.1" y2="349.5" stroke="#000" stroke-width="1.2"/>
<text x="404.2" y="368.1" font-size="17.5" text-anchor="middle">6</text>
<line x1="503.7" x2="503.7" y1="344.1" y2="349.5" stroke="#000" stroke-width="1.2"/>
<text x="503.7" y="368.1" font-size="17.5" text-anchor="middle">8</text>
<line x1="603.2" x2="603.2" y1="344.1" y2="349.5" stroke="#000" stroke-width="1.2"/>
<text x="603.2" y="368.1" font-size="17.5" text-anchor="middle">10</text>
<line x1="100.2" x2="105.6" y1="328.3" y2="328.3" stroke="#000" stroke-width="1.2"/>
<text x="94.9" y="335.1" font-size="17.5" text-anchor="end">0.00000</text>
<line x1="100.2" x2="105.6" y1="289.4" y2="289.4" stroke="#000" stroke-width="1.2"/>
<text x="94.9" y="296.2" font-size="17.5" text-anchor="end">0.00025</text>
<line x1="100.2" x2="105.6" y1="250.5" y2="250.5" stroke="#000" stroke-width="1.2"/>
<text x="94.9" y="257.3" font-size="17.5" text-anchor="end">0.00050</text>
<line x1="100.2" x2="105.6" y1="211.6" y2="211.6" stroke="#000" stroke-width="1.2"/>
<text x="94.9" y="218.4" font-size="17.5" text-anchor="end">0.00075</text>
<line x1="100.2" x2="105.6" y1="172.7" y2="172.7" stroke="#000" stroke-width="1.2"/>
<text x="94.9" y="179.5" font-size="17.5" text-anchor="end">0.00100</text>
<line x1="100.2" x2="105.6" y1="133.8" y2="133.8" stroke="#000" stroke-width="1.2"/>
<text x="94.9" y="140.6" font-size="17.5" text-anchor="end">0.00125</text>
<line x1="100.2" x2="105.6" y1="94.9" y2="94.9" stroke="#000" stroke-width="1.2"/>
<text x="94.9" y="101.7" font-size="17.5" text-anchor="end">0.00150</text>
<line x1="100.2" x2="105.6" y1="56.0" y2="56.0" stroke="#000" stroke-width="1.2"/>
<text x="94.9" y="62.8" font-size="17.5" text-anchor="end">0.00175</text>
<line x1="100.2" x2="105.6" y1="17.1" y2="17.1" stroke="#000" stroke-width="1.2"/>
<text x="94.9" y="23.9" font-size="17.5" text-anchor="end">0.00200</text>
<text x="354.95" y="391.1" font-size="17.5" text-anchor="middle">Fluence Conversion Factor to Bolometric</text>
<text transform="translate(12.9,172.2) rotate(-90)" font-size="17.5" text-anchor="middle">PDF</text>
<rect x="286.7" y="9.2" width="307.7" height="107.6" rx="2.8" ry="2.8" fill="#fff" fill-opacity="0.8" stroke="#ccc" stroke-opacity="0.8" stroke-width="1.4"/>
<line x1="293.6" x2="328.8" y1="23.6" y2="23.6" stroke="#ff0000" stroke-width="3.1" stroke-linecap="square"/>
<text x="342.7" y="29.6" font-size="17.5">300-1500 keV to Bolometric</text>
<line x1="293.6" x2="328.8" y1="49.3" y2="49.3" stroke="#ffa500" stroke-width="3.1" stroke-linecap="square"/>
<text x="342.7" y="55.3" font-size="17.5">50-300 keV to Bolometric</text>
<line x1="293.6" x2="328.8" y1="75.0" y2="75.0" stroke="#800080" stroke-width="3.1" stroke-linecap="square"/>
<text x="342.7" y="81.0" font-size="17.5">20-2000 keV to Bolometric</text>
<line x1="293.6" x2="328.8" y1="100.7" y2="100.7" stroke="#008000" stroke-width="3.1" stroke-linecap="square"/>
<text x="342.7" y="106.7" font-size="17.5">10-1000 keV to Bolometric</text>
</svg>
</body></html>
